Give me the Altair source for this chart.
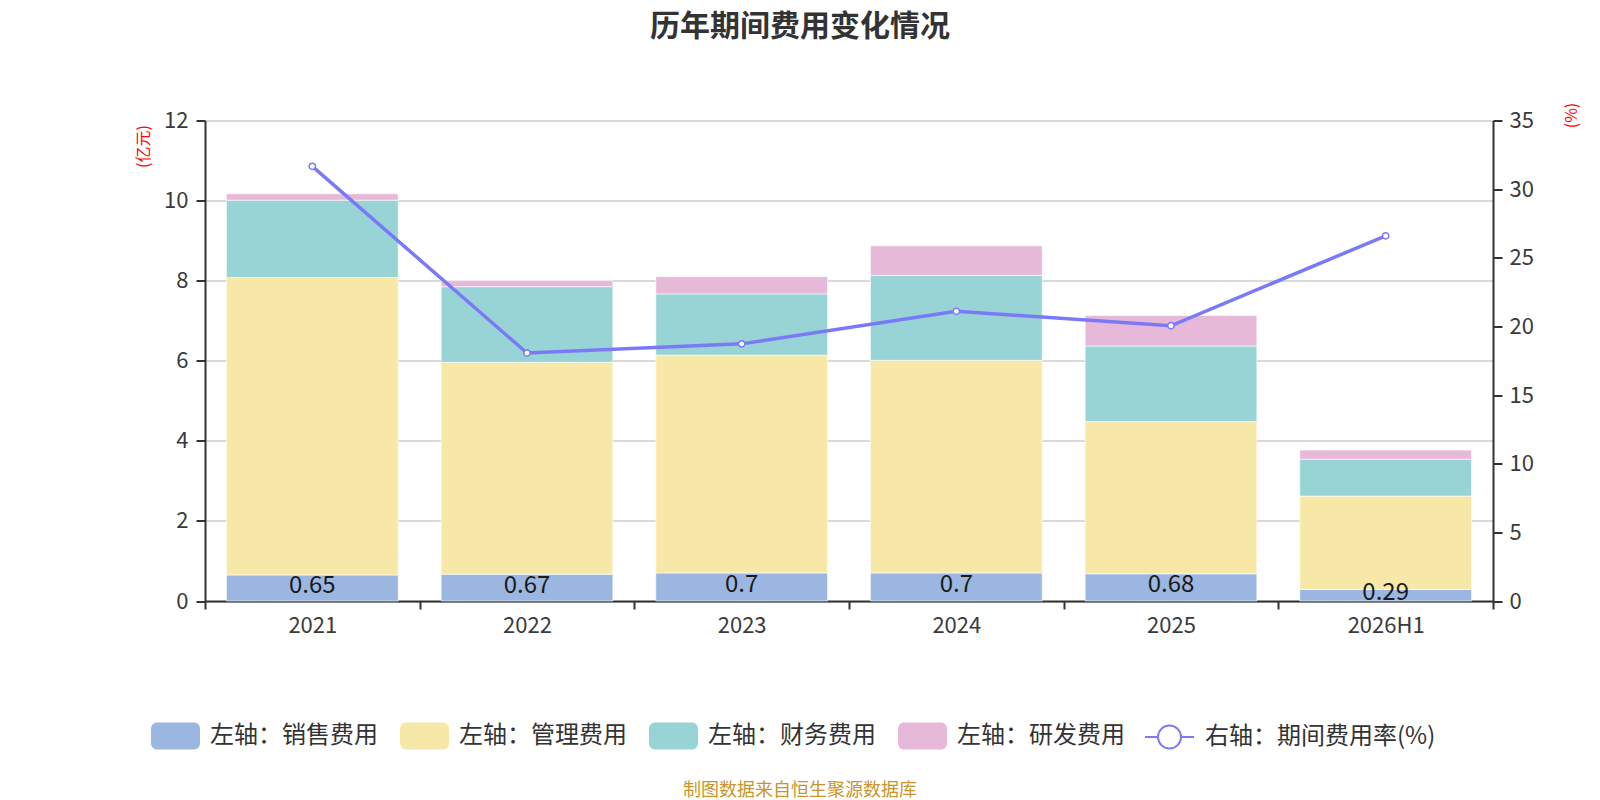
import altair as alt
import pandas as pd

FONT = "Noto Sans CJK SC"

years = ["2021", "2022", "2023", "2024", "2025", "2026H1"]
sales = [0.65, 0.67, 0.70, 0.70, 0.68, 0.29]
mgmt = [7.43, 5.29, 5.44, 5.31, 3.80, 2.33]
fin = [1.93, 1.89, 1.53, 2.12, 1.89, 0.92]
rd = [0.16, 0.15, 0.43, 0.74, 0.76, 0.23]
rate = [31.66, 18.06, 18.73, 21.1, 20.05, 26.6]

series_names = ["左轴：销售费用", "左轴：管理费用", "左轴：财务费用", "左轴：研发费用"]
rate_name = "右轴：期间费用率(%)"
bar_colors = ["#9BB7E1", "#F8E8A8", "#98D4D5", "#E6B9D8"]
line_color = "#7A7AF8"
title_text = "历年期间费用变化情况"
source_text = "制图数据来自恒生聚源数据库"
left_ticks = [0, 2, 4, 6, 8, 10, 12]
right_ticks = [0, 5, 10, 15, 20, 25, 30, 35]

rows = []
for i, (name, vals) in enumerate(zip(series_names, [sales, mgmt, fin, rd])):
    for yr, v in zip(years, vals):
        rows.append({"year": yr, "series": name, "value": v, "order": i})
df_bar = pd.DataFrame(rows)
df_lab = pd.DataFrame({"year": years, "sales": sales, "label": [f"{v:g}" for v in sales]})
df_line = pd.DataFrame({"year": years, "rate": rate, "name": [rate_name] * len(years)})
df_src = pd.DataFrame({"t": [source_text]})

rounded_rect = ("M-0.755,-0.551 L0.755,-0.551 A0.245,0.245 0 0 1 1,-0.306 L1,0.306 "
                "A0.245,0.245 0 0 1 0.755,0.551 L-0.755,0.551 A0.245,0.245 0 0 1 -1,0.306 "
                "L-1,-0.306 A0.245,0.245 0 0 1 -0.755,-0.551 Z")
line_circle = ("M-1,0 L-0.47,0 M0.47,0 L1,0 M-0.47,0 A0.47,0.47 0 1 0 0.47,0 "
               "A0.47,0.47 0 1 0 -0.47,0 Z")

x_enc = alt.X(
    "year:N", sort=years,
    scale=alt.Scale(domain=years, paddingInner=0, paddingOuter=0),
    axis=alt.Axis(title=None, labelAngle=0, tickBand="extent", labelFontSize=22,
                  labelColor="#3a3a3a", labelFont=FONT, domainColor="#333", domainWidth=2,
                  tickColor="#333", tickWidth=2, tickSize=8, labelPadding=6, grid=False),
)

left_axis = alt.Axis(
    title="(亿元)", values=left_ticks, grid=True, gridColor="#cccccc", gridWidth=1.5,
    domainColor="#333", domainWidth=2, tickColor="#333", tickWidth=2, tickSize=9,
    labelFontSize=22, labelColor="#3a3a3a", labelFont=FONT, labelPadding=8,
    titleColor="#FF0000", titleFontSize=16, titleFontWeight="normal", titleFont=FONT,
    titleAngle=270, titleX=-62, titleY=25.5, titleAlign="center", titleBaseline="middle",
)
right_axis = alt.Axis(
    title="(%)", orient="right", values=right_ticks, grid=False,
    domainColor="#333", domainWidth=2, tickColor="#333", tickWidth=2, tickSize=9,
    labelFontSize=22, labelColor="#3a3a3a", labelFont=FONT, labelPadding=7,
    titleColor="#FF0000", titleFontSize=16, titleFontWeight="normal", titleFont=FONT,
    titleAngle=270, titleX=78, titleY=-5.5, titleAlign="center", titleBaseline="middle",
)

left_scale = alt.Scale(domain=[0, 12], nice=False)
right_scale = alt.Scale(domain=[0, 35], nice=False)

bars = alt.Chart(df_bar).mark_bar(
    width=alt.RelativeBandSize(0.8), stroke="#ffffff", strokeWidth=1, strokeOpacity=0.6
).encode(
    x=x_enc,
    y=alt.Y("value:Q", stack="zero", scale=left_scale, axis=left_axis),
    color=alt.Color(
        "series:N",
        scale=alt.Scale(domain=series_names, range=bar_colors),
        legend=alt.Legend(
            title=None, orient="none", legendX=-54, legendY=591, direction="horizontal",
            columns=4, labelFontSize=24, labelColor="#333", labelFont=FONT, labelLimit=0,
            symbolType=rounded_rect, symbolSize=2401, symbolStrokeWidth=0,
            labelOffset=10, columnPadding=22, padding=0,
        ),
    ),
    order=alt.Order("order:Q", sort="ascending"),
)

labels = alt.Chart(df_lab).transform_calculate(mid="datum.sales / 2").mark_text(
    fontSize=24, font=FONT, color="#1a1a1a", baseline="middle", dy=-2
).encode(
    x=x_enc,
    y=alt.Y("mid:Q", scale=left_scale, axis=left_axis),
    text="label:N",
)

line = alt.Chart(df_line).mark_line(strokeWidth=3.5).encode(
    x=x_enc,
    y=alt.Y("rate:Q", scale=right_scale, axis=right_axis),
    stroke=alt.Stroke(
        "name:N",
        scale=alt.Scale(domain=[rate_name], range=[line_color]),
        legend=alt.Legend(
            title=None, orient="none", legendX=939, legendY=591, direction="horizontal",
            labelFontSize=24, labelColor="#333", labelFont=FONT, labelLimit=0,
            symbolType=line_circle, symbolSize=2401, symbolStrokeWidth=2,
            symbolFillColor="#ffffff", labelOffset=10, padding=0,
        ),
    ),
)

points = alt.Chart(df_line).mark_point(
    shape="circle", filled=True, fill="#ffffff", stroke=line_color, strokeWidth=1.5,
    size=40, opacity=1
).encode(
    x=x_enc,
    y=alt.Y("rate:Q", scale=right_scale, axis=right_axis),
)

source = alt.Chart(df_src).mark_text(
    fontSize=18, font=FONT, color="#C8952B", align="center", baseline="middle"
).encode(
    x=alt.value(595), y=alt.value(670), text="t:N"
)

left = alt.layer(bars, labels)
right = alt.layer(line, points)

chart = alt.layer(left, right, source).resolve_scale(y="independent").properties(
    width=1288,
    height=480.5,
    title=alt.Title(title_text, fontSize=30, fontWeight="bold", color="#333", font=FONT,
                    anchor="middle", dx=-49, offset=60),
    autosize=alt.AutoSizeParams(type="none"),
    padding={"left": 197, "top": 112.5, "right": 99, "bottom": 199},
).configure(font=FONT).configure_view(strokeWidth=0)

chart.save("out.html", embed_options={"renderer": "svg", "actions": False})
